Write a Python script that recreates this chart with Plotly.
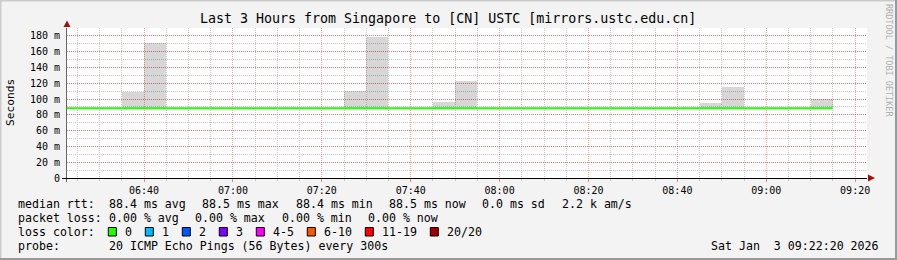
import plotly.graph_objects as go
import pandas as pd

# ---------------- data ----------------
interval_starts = pd.date_range("2026-01-03 06:20", "2026-01-03 09:10", freq="5min")
median_rtt_ms = [88.4, 88.4, 88.4, 88.4, 88.4, 88.4, 88.4, 88.4, 88.4, 88.4,
                 88.4, 88.4, 88.4, 88.4, 88.4, 88.4, 88.5, 88.4, 88.4, 88.4,
                 88.4, 88.4, 88.4, 88.4, 88.4, 88.4, 88.4, 88.4, 88.4, 88.4,
                 88.4, 88.4, 88.4, 88.4, 88.5]
smoke_top_ms = [88.4, 88.4, 88.4, 109.0, 171.0, 88.4, 88.4, 88.4, 88.4, 88.4,
                88.4, 88.4, 88.4, 110.0, 179.0, 88.4, 88.4, 96.5, 123.0, 88.4,
                88.4, 88.4, 88.4, 88.4, 88.4, 88.4, 88.4, 88.4, 88.4, 95.0,
                115.0, 88.4, 88.4, 88.4, 100.0]
y_tick_vals = [0, 20, 40, 60, 80, 100, 120, 140, 160, 180]
y_tick_text = ["0", "20 m", "40 m", "60 m", "80 m", "100 m", "120 m", "140 m", "160 m", "180 m"]
loss_labels = ["0", "1", "2", "3", "4-5", "6-10", "11-19", "20/20"]
loss_colors = ["#26ff00", "#00b8ff", "#0059ff", "#7e00ff", "#ff00ff", "#ff5500", "#ff0000", "#a10000"]

title_text = "Last 3 Hours from Singapore to [CN] USTC [mirrors.ustc.edu.cn]"
median_items = ["88.4 ms avg", "88.5 ms max", "88.4 ms min", "88.5 ms now", "0.0 ms sd", "2.2 k am/s"]
loss_items = ["0.00 % avg", "0.00 % max", "0.00 % min", "0.00 % now"]
probe_items = ["20 ICMP Echo Pings (56 Bytes) every 300s"]
row_heads = ["median rtt:", "packet loss:", "loss color:", "probe:"]
date_text = "Sat Jan  3 09:22:20 2026"
x_start = "2026-01-03 06:22:40"
x_end = "2026-01-03 09:22:40"

# ---------------- geometry ----------------
W, H = 897, 260
L, R, T, B = 67, 30, 28, 82
PW, PH = W - L - R, H - T - B
MONO = "DejaVu Sans Mono"
CW = 7.0        # character advance of legend font
GAP = 16.3      # gap between legend items


def px(x):
    return (x - L) / PW


def py(y):
    return (H - B - y) / PH


def nb(s):
    return s.replace(" ", "\u00a0")


step = pd.Timedelta(minutes=5)
smoke_height = [t - m for t, m in zip(smoke_top_ms, median_rtt_ms)]
line_x = list(interval_starts) + [interval_starts[-1] + step]
line_y = median_rtt_ms + [median_rtt_ms[-1]]

fig = go.Figure()
fig.add_trace(go.Bar(
    x=interval_starts, y=smoke_height, base=median_rtt_ms,
    offset=0, width=300000,
    marker=dict(color="rgba(0,0,0,0.155)", line=dict(width=0)),
    hoverinfo="skip", showlegend=False,
))
fig.add_trace(go.Scatter(
    x=line_x, y=line_y, mode="lines", line=dict(color="#26ff00", width=2, shape="hv"),
    showlegend=False, hoverinfo="skip",
))

grid_minor = "#c8c8c8"
grid_major = "rgba(255,0,0,0.38)"

fig.update_layout(
    width=W, height=H,
    margin=dict(l=L, r=R, t=T, b=B, pad=0),
    paper_bgcolor="#f3f3f3", plot_bgcolor="#ffffff",
    font=dict(family=MONO, size=10, color="#000000"),
    bargap=0,
    xaxis=dict(
        type="date", range=[x_start, x_end],
        tickformat="%H:%M", tick0="2026-01-03 06:40", dtick=1200000,
        showgrid=True, gridcolor=grid_major, griddash="1px,1px", gridwidth=1,
        ticks="outside", ticklen=3, tickcolor="#ff8080",
        showline=True, linecolor="#000000", linewidth=1,
        zeroline=False, fixedrange=True,
        tickfont=dict(family=MONO, size=10),
        minor=dict(dtick=300000, tick0="2026-01-03 06:40", showgrid=True,
                   gridcolor=grid_minor, griddash="1px,1px",
                   ticks="outside", ticklen=2, tickcolor="#c8c8c8"),
    ),
    yaxis=dict(
        range=[0, 190], tickvals=y_tick_vals, ticktext=y_tick_text,
        showgrid=True, gridcolor=grid_major, griddash="1px,1px", gridwidth=1,
        ticks="", showline=True, linecolor="#666666", linewidth=1,
        zeroline=False, fixedrange=True,
        tickfont=dict(family=MONO, size=10), ticklabelstandoff=4,
        minor=dict(dtick=10, showgrid=True, gridcolor=grid_minor, griddash="1px,1px"),
    ),
)

ann = []


def text(x, y, s, size=11.6, xanchor="left", color="#000000", angle=0):
    ann.append(dict(x=px(x), y=py(y), xref="paper", yref="paper", text=nb(s),
                    showarrow=False, xanchor=xanchor, yanchor="middle",
                    textangle=angle, font=dict(family=MONO, size=size, color=color)))


def row(y, items, x0=107.0):
    x = x0
    for it in items:
        text(x, y, it)
        x += CW * len(it) + GAP


text(448, 19, title_text, size=13.3, xanchor="center")
text(10, 103, "Seconds", size=11.2, xanchor="center", angle=-90)
text(889, 60, "RRDTOOL / TOBI OETIKER", size=8.5, xanchor="center", color="#b0b0b0", angle=90)
row_y = [204, 218, 232, 246]
for yy, head in zip(row_y, row_heads):
    text(16, yy, head)
row(row_y[0], median_items)
row(row_y[1], loss_items)
row(row_y[3], probe_items)
text(881, 246, date_text, xanchor="right")

shapes = []
xs = 108.3
for lab, col in zip(loss_labels, loss_colors):
    shapes.append(dict(type="rect", xref="paper", yref="paper",
                       x0=px(xs), x1=px(xs + 8), y0=py(236), y1=py(227.5),
                       fillcolor=col, line=dict(color="#000000", width=1)))
    text(xs + 15, row_y[2], lab)
    xs = xs + 15 + CW * len(lab) + 15

# axis arrows
ar = "#a01010"
shapes.append(dict(type="path", xref="paper", yref="paper",
                   path=f"M {px(63.5)} {py(27)} L {px(70.5)} {py(27)} L {px(67)} {py(20.5)} Z",
                   fillcolor=ar, line=dict(color=ar, width=0)))
shapes.append(dict(type="path", xref="paper", yref="paper",
                   path=f"M {px(868)} {py(174.5)} L {px(868)} {py(181.5)} L {px(875)} {py(178)} Z",
                   fillcolor=ar, line=dict(color=ar, width=0)))
# y axis extension below zero and x axis extension left
shapes.append(dict(type="line", xref="paper", yref="paper",
                   x0=px(66.5), x1=px(66.5), y0=py(178), y1=py(182),
                   line=dict(color="#666666", width=1)))
shapes.append(dict(type="line", xref="paper", yref="paper",
                   x0=px(62), x1=px(67), y0=py(178.5), y1=py(178.5),
                   line=dict(color="#000000", width=1)))
# frame (3D shade)
shapes.append(dict(type="line", xref="paper", yref="paper", x0=px(0), x1=px(W), y0=py(0.5), y1=py(0.5),
                   line=dict(color="#cbcbcb", width=2)))
shapes.append(dict(type="line", xref="paper", yref="paper", x0=px(0.5), x1=px(0.5), y0=py(0), y1=py(H),
                   line=dict(color="#cbcbcb", width=2)))
shapes.append(dict(type="line", xref="paper", yref="paper", x0=px(0), x1=px(W), y0=py(H - 1), y1=py(H - 1),
                   line=dict(color="#999999", width=2)))
shapes.append(dict(type="line", xref="paper", yref="paper", x0=px(W - 1), x1=px(W - 1), y0=py(0), y1=py(H),
                   line=dict(color="#999999", width=2)))

fig.update_layout(annotations=ann, shapes=shapes)
fig.write_html("out.html", config={"displayModeBar": False})
